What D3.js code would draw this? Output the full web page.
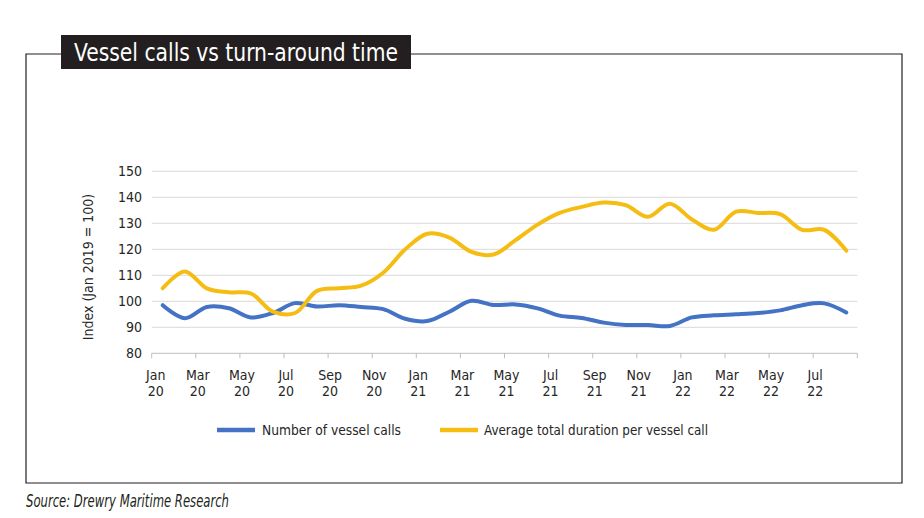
<!DOCTYPE html>
<html>
<head>
<meta charset="utf-8">
<script src="https://cdn.jsdelivr.net/npm/d3@7"></script>
<style>
  html, body { margin: 0; padding: 0; background: #ffffff; }
  svg { display: block; }
  text { font-family: "Liberation Sans Narrow", "DejaVu Sans Condensed", Roboto, sans-serif; }
</style>
</head>
<body>
<svg id="chart" width="924" height="518"></svg>
<script>
// ---- data ----
const months = [
  "Jan 20","Feb 20","Mar 20","Apr 20","May 20","Jun 20","Jul 20","Aug 20","Sep 20","Oct 20","Nov 20","Dec 20",
  "Jan 21","Feb 21","Mar 21","Apr 21","May 21","Jun 21","Jul 21","Aug 21","Sep 21","Oct 21","Nov 21","Dec 21",
  "Jan 22","Feb 22","Mar 22","Apr 22","May 22","Jun 22","Jul 22","Aug 22"
];
const vesselCalls = [
  98.5, 93.5, 97.8, 97.3, 93.8, 95.5, 99.3, 98.0, 98.5, 97.8, 97.0, 93.3,
  92.4, 96.0, 100.2, 98.6, 98.8, 97.3, 94.5, 93.6, 91.8, 90.9, 90.9, 90.5,
  93.8, 94.6, 95.0, 95.5, 96.5, 98.5, 99.2, 95.7
];
const avgDuration = [
  105.0, 111.5, 105.0, 103.5, 103.0, 96.0, 95.5, 104.0, 105.0, 106.0, 111.0, 120.0,
  126.0, 124.5, 119.0, 118.0, 123.5, 129.5, 134.0, 136.3, 138.0, 137.0, 132.5, 137.5,
  131.5, 127.5, 134.5, 134.0, 133.5, 127.5, 127.5, 119.5
];
const yTicks = [80, 90, 100, 110, 120, 130, 140, 150];
const xTickLabels = [
  ["Jan","20"],["Mar","20"],["May","20"],["Jul","20"],["Sep","20"],["Nov","20"],
  ["Jan","21"],["Mar","21"],["May","21"],["Jul","21"],["Sep","21"],["Nov","21"],
  ["Jan","22"],["Mar","22"],["May","22"],["Jul","22"]
];
const seriesNames = ["Number of vessel calls", "Average total duration per vessel call"];
const seriesColors = ["#4472C4", "#F5BD14"];
const titleText = "Vessel calls vs turn-around time";
const yAxisTitle = "Index (Jan 2019 = 100)";
const sourceText = "Source: Drewry Maritime Research";

// ---- layout ----
const svg = d3.select("#chart");
const plot = { left: 151.7, right: 857.3, top: 171.3, bottom: 353.3 };

const x = d3.scaleBand().domain(months).range([plot.left, plot.right]).padding(0);
const y = d3.scaleLinear().domain([80, 150]).range([plot.bottom, plot.top]);
const cx = m => x(m) + x.bandwidth() / 2;

// frame
const frame = svg.append("g").attr("fill", "none").attr("stroke", "#231f20").attr("stroke-width", 1.2);
frame.append("path").attr("d", "M61,54 H26 V483 H902 V54 H411");

// title box
svg.append("rect").attr("x", 61).attr("y", 35).attr("width", 350).attr("height", 34).attr("fill", "#231f20");
svg.append("text").attr("x", 74).attr("y", 60.5).attr("fill", "#ffffff")
  .attr("font-family", "Roboto, sans-serif").attr("font-size", 24)
  .attr("textLength", 324).attr("lengthAdjust", "spacingAndGlyphs")
  .text(titleText);

// gridlines
svg.append("g").selectAll("line").data(yTicks.filter(t => t > 80)).join("line")
  .attr("x1", plot.left).attr("x2", plot.right)
  .attr("y1", d => y(d)).attr("y2", d => y(d))
  .attr("stroke", "#d9d9d9").attr("stroke-width", 1);

// x axis line
svg.append("line").attr("x1", plot.left).attr("x2", plot.right)
  .attr("y1", y(80)).attr("y2", y(80)).attr("stroke", "#bfbfbf").attr("stroke-width", 1);

// x tick marks (every 2 months + end)
const tickMonths = months.filter((m, i) => i % 2 === 0);
const tickXs = tickMonths.map(m => x(m)).concat([plot.right]);
svg.append("g").selectAll("line").data(tickXs).join("line")
  .attr("x1", d => d).attr("x2", d => d)
  .attr("y1", y(80)).attr("y2", y(80) + 5)
  .attr("stroke", "#bfbfbf").attr("stroke-width", 1);

// x tick labels
const xl = svg.append("g").attr("fill", "#262626").attr("font-size", 14).attr("text-anchor", "middle");
xTickLabels.forEach((lab, i) => {
  const px = x(tickMonths[i]) + (i === 0 ? 4 : 2);
  const t = xl.append("text").attr("x", px).attr("y", 380);
  t.append("tspan").attr("x", px).attr("dy", 0).text(lab[0]);
  t.append("tspan").attr("x", px).attr("y", 395.5).text(lab[1]);
});

// y tick labels
svg.append("g").attr("fill", "#262626").attr("font-size", 14).attr("text-anchor", "end")
  .selectAll("text").data(yTicks).join("text")
  .attr("x", 142).attr("y", d => y(d) + 5).text(d => d);

// y axis title
svg.append("text").attr("transform", "translate(93,267) rotate(-90)")
  .attr("text-anchor", "middle").attr("fill", "#262626").attr("font-size", 14)
  .text(yAxisTitle);

// lines
const line = d3.line().x((d, i) => cx(months[i])).y(d => y(d)).curve(d3.curveCatmullRom.alpha(0.5));
[vesselCalls, avgDuration].forEach((s, k) => {
  svg.append("path").datum(s).attr("d", line).attr("fill", "none")
    .attr("stroke", seriesColors[k]).attr("stroke-width", 4)
    .attr("stroke-linejoin", "round").attr("stroke-linecap", "round");
});

// legend
const legendPos = [{ lx: 217, tx: 262, w: 139 }, { lx: 440, tx: 484, w: 224 }];
legendPos.forEach((p, k) => {
  svg.append("line").attr("x1", p.lx).attr("x2", p.lx + 38).attr("y1", 430).attr("y2", 430)
    .attr("stroke", seriesColors[k]).attr("stroke-width", 4.5);
  svg.append("text").attr("x", p.tx).attr("y", 435).attr("fill", "#262626").attr("font-size", 14)
    .attr("textLength", p.w).attr("lengthAdjust", "spacingAndGlyphs")
    .text(seriesNames[k]);
});

// source
svg.append("text").attr("x", 26).attr("y", 507).attr("fill", "#231f20").attr("font-size", 17)
  .attr("font-style", "italic").attr("textLength", 203).attr("lengthAdjust", "spacingAndGlyphs")
  .text(sourceText);
</script>
</body>
</html>
